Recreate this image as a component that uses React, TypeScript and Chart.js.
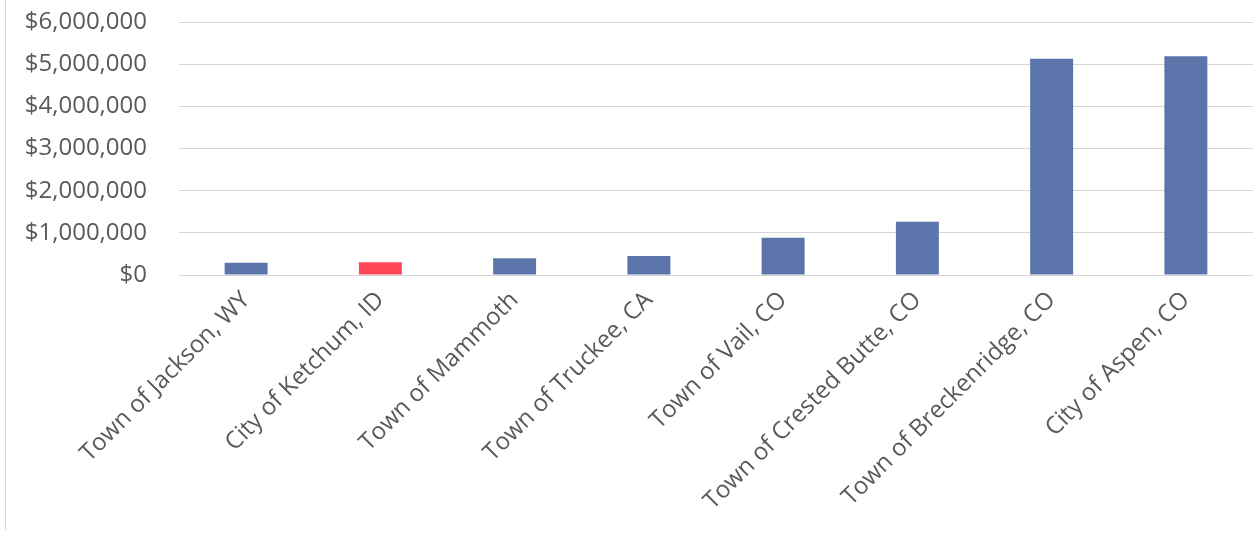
import React, { useEffect, useRef } from "react";
import { Chart, registerables } from "chart.js";

Chart.register(...registerables);

const categories: string[] = [
  "Town of Jackson, WY",
  "City of Ketchum, ID",
  "Town of Mammoth",
  "Town of Truckee, CA",
  "Town of Vail, CO",
  "Town of Crested Butte, CO",
  "Town of Breckenridge, CO",
  "City of Aspen, CO",
];

const amounts: number[] = [290000, 300000, 400000, 450000, 885000, 1260000, 5130000, 5190000];

const highlightIndex = 1;
const baseColor = "#5b74a9";
const highlightColor = "#ff4656";

const yMax = 6000000;
const yStep = 1000000;

const FONT = "'Open Sans', 'Liberation Sans', sans-serif";
const W = 1255;
const H = 534;
const PLOT_LEFT = 179;
const PLOT_TOP = 22;
const PLOT_BOTTOM = 275;

export default function App() {
  const canvasRef = useRef<HTMLCanvasElement | null>(null);

  useEffect(() => {
    document.body.style.margin = "0";
    const canvas = canvasRef.current;
    if (!canvas) return;
    const chart = new Chart(canvas, {
      type: "bar",
      data: {
        labels: categories,
        datasets: [
          {
            data: amounts,
            backgroundColor: amounts.map((_, i) => (i === highlightIndex ? highlightColor : baseColor)),
            barPercentage: 0.32,
            categoryPercentage: 1,
          },
        ],
      },
      options: {
        animation: false,
        responsive: false,
        maintainAspectRatio: false,
        layout: { padding: { top: PLOT_TOP, right: 2, left: 0, bottom: 0 } },
        plugins: { legend: { display: false }, tooltip: { enabled: false } },
        scales: {
          x: {
            grid: { display: false, drawTicks: false },
            border: { display: false },
            ticks: {
              autoSkip: false,
              minRotation: 45,
              maxRotation: 45,
              padding: 11,
              color: "#595959",
              font: { family: FONT, size: 24 },
            },
            afterFit: (scale: any) => {
              scale.height = H - PLOT_BOTTOM;
              scale.paddingTop = 0;
              scale.paddingBottom = 0;
            },
          },
          y: {
            min: 0,
            max: yMax,
            grid: { color: "#d6d6d6", lineWidth: 1, drawTicks: false },
            border: { display: false },
            ticks: {
              stepSize: yStep,
              padding: 32,
              color: "#595959",
              font: { family: FONT, size: 24 },
              callback: (v: any) => "$" + Number(v).toLocaleString("en-US"),
            },
            afterFit: (scale: any) => {
              scale.width = PLOT_LEFT;
              scale.paddingTop = 0;
              scale.paddingBottom = 0;
            },
          },
        },
      },
    });
    return () => chart.destroy();
  }, []);

  return (
    <div style={{ position: "fixed", left: 0, top: 0, width: W, height: H, background: "#fff" }}>
      <div style={{ position: "absolute", left: 5, top: 0, width: 1, height: 530, background: "#d4d4d4" }} />
      <canvas ref={canvasRef} width={W} height={H} style={{ position: "absolute", left: 0, top: 0 }} />
    </div>
  );
}
